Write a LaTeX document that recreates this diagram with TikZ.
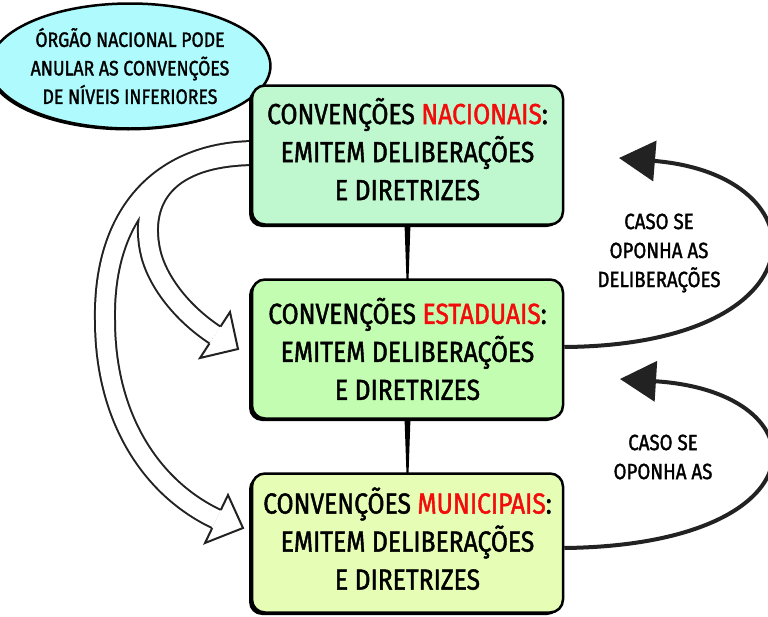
\documentclass[tikz,border=0pt]{standalone}
\usepackage{fontspec}
\setmainfont{Fira Sans}[FakeStretch=0.85, FakeBold=1.5]
\usetikzlibrary{shapes.geometric,arrows.meta,calc,shadows,backgrounds}
\definecolor{boxA}{HTML}{BFF8CF}
\definecolor{boxB}{HTML}{C2FDB1}
\definecolor{boxC}{HTML}{E6FDB6}
\definecolor{ellc}{HTML}{AEFAFC}
\definecolor{ink}{HTML}{222222}
\definecolor{hi}{HTML}{F20C0C}
\newcommand{\liftby}[1]{\rule[-#1]{0pt}{#1}}
\begin{document}
\begin{tikzpicture}[x=1pt,y=-1pt,
  conv/.style={draw=black, line width=2.5pt, rounded corners=13pt,
    minimum width=311pt, minimum height=139pt, align=center, inner sep=0pt,
    font=\fontsize{29}{38}\selectfont,
    general shadow={fill=black, shadow xshift=-3pt, shadow yshift=-2.5pt}},
  bubble/.style={ellipse, draw=black, line width=2.5pt, fill=ellc,
    minimum width=254pt, minimum height=125pt, align=center, inner sep=0pt,
    font=\fontsize{20.8}{28.5}\selectfont,
    general shadow={fill=black, shadow xshift=-2pt, shadow yshift=-2pt}},
  note/.style={align=center, inner sep=0pt, font=\fontsize{22}{29}\selectfont},
  shaftout/.style={ink, line width=22pt},
  shaftin/.style={white, line width=18pt},
  headline/.style={ink, line width=2pt, line join=miter},
  back/.style={ink, line width=4pt, -{Triangle[length=36pt,width=40pt]}}
]
\useasboundingbox (0,0) rectangle (768,616);

\node[bubble] (e) at (130,66) {ÓRGÃO NACIONAL PODE\\ANULAR AS CONVENÇÕES\\DE NÍVEIS INFERIORES};

\node[conv, fill=boxA] (b1) at (407.5,155) {CONVENÇÕES \textcolor{hi}{NACIONAIS}:\\EMITEM DELIBERAÇÕES\\E DIRETRIZES\liftby{12pt}};
\node[conv, fill=boxB] (b2) at (407.5,349) {CONVENÇÕES \textcolor{hi}{ESTADUAIS}:\\EMITEM DELIBERAÇÕES\\E DIRETRIZES};
\node[conv, fill=boxC] (b3) at (407.5,543) {CONVENÇÕES \textcolor{hi}{MUNICIPAIS}:\\EMITEM DELIBERAÇÕES\\E DIRETRIZES\liftby{9pt}};

\node[note] (l1) at (659,253) {CASO SE\\OPONHA AS\\DELIBERAÇÕES};
\node[note] (l2) at (663,457) {CASO SE\\OPONHA AS};

% hollow arrow geometry
\coordinate (aS) at ($(b1.west)+(6,-4)$);
\coordinate (aM) at (105,320);
\coordinate (aE) at (216.5,519);
\coordinate (aT) at (228,495);
\coordinate (aP) at (243,528);
\coordinate (aB) at (205,543);
\coordinate (aE1) at (220.8,510);
\coordinate (aE2) at (212.2,528);
\coordinate (bS) at ($(b1.west)+(6,0)$);
\coordinate (bM) at (150,250);
\coordinate (bE) at (215,335);
\coordinate (bT) at (230,312);
\coordinate (bP) at (238,349);
\coordinate (bB) at (200,358);
\coordinate (bE1) at (220.5,326.6);
\coordinate (bE2) at (209.5,343.4);

\begin{scope}[on background layer]
  \draw[shaftout] (aS) .. controls (160,151) and (103,215) .. (aM)
                       .. controls (105,420) and (153,489) .. (aE);
  \draw[shaftout] (bS) .. controls (165,155) and (140,200) .. (bM)
                       .. controls (156,280) and (181.5,313) .. (bE);
  \draw[shaftin] (aS) .. controls (160,151) and (103,215) .. (aM)
                      .. controls (105,420) and (153,489) .. (aE);
  \draw[shaftin] (bS) .. controls (165,155) and (140,200) .. (bM)
                      .. controls (156,280) and (181.5,313) .. (bE);
  \fill[white] (aT) -- (aP) -- (aB) -- cycle;
  \draw[headline] (aE1) -- (aT) -- (aP) -- (aB) -- (aE2);
  \fill[white] (bT) -- (bP) -- (bB) -- cycle;
  \draw[headline] (bE1) -- (bT) -- (bP) -- (bB) -- (bE2);

  \fill[black] ($(b1.south)+(-3,-2)$) -- ($(b1.south)+(3,-2)$)
     -- ($(b2.north)+(1,2)$) -- ($(b2.north)+(-1,2)$) -- cycle;
  \fill[black] ($(b2.south)+(-3,-2)$) -- ($(b2.south)+(3,-2)$)
     -- ($(b3.north)+(1,2)$) -- ($(b3.north)+(-1,2)$) -- cycle;
\end{scope}

\coordinate (t1) at (619,158);
\coordinate (t2) at (620,379);
\draw[back] ($(b2.east)+(0,-2)$) .. controls (825,345) and (825,175) .. (t1);
\draw[back] ($(b3.east)+(0,5)$) .. controls (825,545) and (825,392) .. (t2);
\end{tikzpicture}
\end{document}
